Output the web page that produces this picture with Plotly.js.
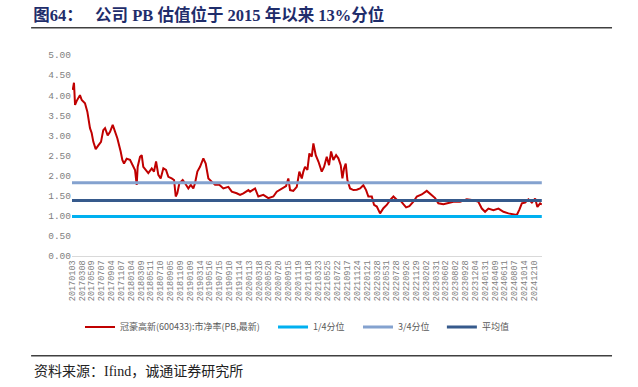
<!DOCTYPE html>
<html>
<head>
<meta charset="utf-8">
<script src="https://cdn.plot.ly/plotly-3.0.1.min.js"></script>
<style>html,body{margin:0;padding:0;background:#fff;}#chart{width:638px;height:387px;}</style>
</head>
<body>
<div id="chart"></div>
<script>
// Tick labels of the category (trading-day) axis, one every ~41 trading days
const tickLabels = ["20170103","20170308","20170509","20170707","20170904","20171107","20180104","20180309","20180511","20180710","20180905","20181109","20190109","20190314","20190516","20190715","20190910","20191114","20200113","20200318","20200520","20200720","20200915","20201119","20210118","20210323","20210525","20210722","20210917","20211124","20220121","20220328","20220531","20220728","20220926","20221129","20230202","20230331","20230602","20230802","20230928","20231204","20240131","20240409","20240611","20240807","20241014","20241210"];

// Position of each reading, in tick-label intervals from 20170103
const pbX = [0.07,0.20,0.31,0.48,0.81,0.99,1.32,1.56,1.83,2.00,2.17,2.41,2.68,2.95,3.18,3.36,3.63,3.87,4.14,4.37,4.61,4.95,5.12,5.29,5.56,5.90,6.17,6.41,6.58,6.68,6.92,7.09,7.25,7.53,7.76,8.11,8.34,8.55,8.78,9.02,9.29,9.56,9.80,10.14,10.38,10.55,10.71,10.92,11.26,11.50,11.83,12.08,12.34,12.51,12.75,13.02,13.36,13.60,13.87,14.21,14.55,14.98,15.39,15.90,16.25,16.75,17.09,17.43,17.94,18.11,18.62,18.95,19.46,19.97,20.48,20.82,21.33,21.77,22.00,22.18,22.51,22.86,23.12,23.37,23.53,23.70,23.94,24.14,24.38,24.55,24.79,25.06,25.40,25.64,25.91,26.14,26.35,26.58,26.86,27.09,27.33,27.50,27.67,27.84,28.01,28.28,28.62,28.96,29.30,29.63,29.91,30.14,30.49,30.72,31.00,31.33,31.67,32.01,32.35,32.69,33.03,33.37,33.70,33.98,34.31,34.72,35.07,35.57,36.08,36.59,36.93,37.26,37.77,38.28,38.79,39.47,40.15,40.82,41.33,41.68,42.01,42.35,42.86,43.37,43.88,44.39,44.89,45.24,45.51,45.75,46.08,46.42,46.77,47.10,47.33,47.61,47.78];
// 冠豪高新(600433) PB readings
const pbY = [4.13,4.31,3.76,3.86,4.00,3.88,3.80,3.59,3.18,3.06,2.84,2.66,2.75,2.84,3.13,3.18,3.00,3.09,3.26,3.09,2.93,2.60,2.39,2.30,2.42,2.39,2.26,2.14,1.77,2.22,2.47,2.51,2.22,2.14,2.06,2.18,2.10,2.35,2.02,1.93,2.18,2.14,1.97,1.93,1.89,1.48,1.56,1.81,1.89,1.81,1.68,1.77,1.68,1.81,2.10,2.22,2.43,2.30,1.93,1.85,1.77,1.77,1.68,1.72,1.60,1.56,1.52,1.56,1.64,1.60,1.68,1.48,1.52,1.44,1.48,1.60,1.68,1.74,1.93,1.64,1.62,1.72,2.10,1.93,2.10,2.22,2.14,2.55,2.47,2.80,2.51,2.35,2.10,2.22,2.47,2.26,2.60,2.39,2.51,2.43,2.26,1.93,2.18,2.30,1.89,1.68,1.64,1.65,1.68,1.76,1.64,1.48,1.48,1.27,1.23,1.06,1.19,1.27,1.39,1.48,1.40,1.39,1.29,1.21,1.24,1.35,1.48,1.53,1.62,1.52,1.44,1.31,1.29,1.32,1.35,1.35,1.41,1.39,1.35,1.18,1.10,1.18,1.14,1.18,1.10,1.06,1.04,1.02,1.16,1.31,1.33,1.41,1.33,1.43,1.22,1.31,1.28];

const q1Value = 0.98;   // 1/4分位
const q3Value = 1.82;   // 3/4分位
const meanValue = 1.38; // 平均值

const seriesNames = ["冠豪高新(600433):市净率(PB,最新)", "1/4分位", "3/4分位", "平均值"];

const xStart = 0;
const xEnd = pbX[pbX.length - 1];

const traces = [
  {x: pbX, y: pbY, type: "scatter", mode: "lines", name: seriesNames[0], legend: "legend",
   line: {color: "#C00000", width: 2}},
  {x: [xStart, xEnd], y: [q1Value, q1Value], type: "scatter", mode: "lines", name: seriesNames[1], legend: "legend2",
   line: {color: "#00B0F0", width: 3}},
  {x: [xStart, xEnd], y: [q3Value, q3Value], type: "scatter", mode: "lines", name: seriesNames[2], legend: "legend3",
   line: {color: "#84A2CF", width: 3}},
  {x: [xStart, xEnd], y: [meanValue, meanValue], type: "scatter", mode: "lines", name: seriesNames[3], legend: "legend4",
   line: {color: "#365A8C", width: 3}}
];

const monoFont = "Liberation Mono, DejaVu Sans Mono, monospace";
const legendFont = {family: "Noto Sans CJK SC", size: 9, color: "#595959"};
function legendAt(x) {
  return {orientation: "h", x: x, xanchor: "left", y: -0.353, yanchor: "middle",
          font: legendFont, itemwidth: 30, bgcolor: "rgba(0,0,0,0)"};
}

const layout = {
  width: 638, height: 387,
  margin: {l: 72, r: 96, t: 55, b: 131},
  paper_bgcolor: "#ffffff", plot_bgcolor: "#ffffff",
  showlegend: true,
  title: {
    text: "<b>图64：\u00a0\u00a0\u00a0公司 PB 估值位于 2015 年以来 13%分位</b>",
    font: {family: "Liberation Serif, Noto Sans CJK SC", size: 16.5, color: "#1F2D6B"},
    xref: "container", yref: "container", x: 0.052, xanchor: "left", y: 0.961, yanchor: "middle"
  },
  xaxis: {
    range: [xStart, 47.8],
    tickmode: "array",
    tickvals: tickLabels.map((_, i) => i),
    ticktext: tickLabels,
    tickangle: -90,
    tickfont: {family: monoFont, size: 8.5, color: "#808080"},
    showgrid: false, zeroline: false,
    showline: true, linecolor: "#D9D9D9", linewidth: 1,
    ticks: ""
  },
  yaxis: {
    range: [0, 5], dtick: 0.5, tick0: 0, tickformat: ".2f",
    tickfont: {family: monoFont, size: 9.5, color: "#808080"},
    showgrid: false, zeroline: false, showline: false, ticks: ""
  },
  legend: legendAt(0.017),
  legend2: legendAt(0.4277),
  legend3: legendAt(0.6085),
  legend4: legendAt(0.787),
  shapes: [
    {type: "line", xref: "paper", yref: "paper", x0: -0.087, x1: 1.149, y0: 1.136, y1: 1.136,
     line: {color: "#404040", width: 1.5}},
    {type: "line", xref: "paper", yref: "paper", x0: -0.087, x1: 1.149, y0: -0.496, y1: -0.496,
     line: {color: "#404040", width: 1.5}}
  ],
  annotations: [
    {text: "资料来源：Ifind，诚通证券研究所", xref: "paper", yref: "paper", x: -0.085, y: -0.576,
     xanchor: "left", yanchor: "middle", showarrow: false,
     font: {family: "Liberation Serif, Noto Sans CJK SC", size: 14, color: "#222222"}}
  ]
};

Plotly.newPlot("chart", traces, layout, {displayModeBar: false, staticPlot: true});
</script>
</body>
</html>
